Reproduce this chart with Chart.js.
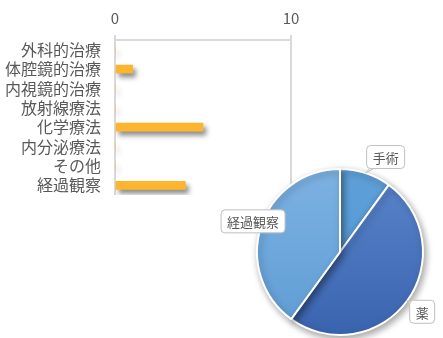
<!DOCTYPE html>
<html>
<head>
<meta charset="utf-8">
<script src="https://cdn.jsdelivr.net/npm/chart.js@4"></script>
<style>
  body { margin: 0; background: #fff; }
  #wrap { position: relative; width: 443px; height: 338px; overflow: hidden; }
  #bar-chart { position: absolute; left: 0; top: 0; }
  #pie-chart { position: absolute; left: 210px; top: 140px; }
</style>
</head>
<body>
<div id="wrap">
  <canvas id="bar-chart" width="443" height="338"></canvas>
  <canvas id="pie-chart" width="233" height="198"></canvas>
</div>
<script>
var categories = ['外科的治療', '体腔鏡的治療', '内視鏡的治療', '放射線療法', '化学療法', '内分泌療法', 'その他', '経過観察'];
var counts = [0, 1, 0, 0, 5, 0, 0, 4];
var axisMax = 10;

var pieLabels = ['手術', '薬', '経過観察'];
var pieValues = [1, 5, 4];

var FONT = "'Noto Sans CJK JP', 'Noto Sans', sans-serif";
var TEXT = '#595959';

// soft drop shadow under the marks of a dataset
var shadowPlugin = {
  id: 'shadow',
  beforeDatasetDraw: function (chart, args, opts) {
    var ctx = chart.ctx;
    ctx.save();
    ctx.shadowColor = opts.color;
    ctx.shadowBlur = opts.blur;
    ctx.shadowOffsetX = opts.x;
    ctx.shadowOffsetY = opts.y;
  },
  afterDatasetDraw: function (chart) {
    chart.ctx.restore();
  }
};

new Chart(document.getElementById('bar-chart'), {
  type: 'bar',
  data: {
    labels: categories,
    datasets: [{
      data: counts,
      backgroundColor: '#FDB52E',
      barThickness: 8
    }]
  },
  options: {
    indexAxis: 'y',
    responsive: false,
    animation: false,
    layout: { padding: { left: 0, right: 152, top: 0, bottom: 143 } },
    plugins: {
      legend: { display: false },
      tooltip: { enabled: false },
      shadow: { color: 'rgba(0,0,0,0.45)', blur: 5, x: 3, y: 4 }
    },
    scales: {
      x: {
        position: 'top',
        min: 0,
        max: axisMax,
        ticks: { stepSize: 10, color: TEXT, font: { family: FONT, size: 15 }, padding: 8 },
        grid: { color: '#d9d9d9', lineWidth: 2, tickLength: 5 },
        border: { display: true, color: '#d9d9d9', width: 2 },
        afterFit: function (scale) { scale.height = 40; }
      },
      y: {
        ticks: { color: TEXT, font: { family: FONT, size: 16 }, padding: 14, autoSkip: false },
        grid: { display: false, drawTicks: false },
        border: { display: false },
        afterFit: function (scale) { scale.width = 115; }
      }
    }
  },
  plugins: [shadowPlugin]
});

// vertical gradient for a pie slice
function sliceFill(ctx) {
  var chart = ctx.chart;
  var area = chart.chartArea;
  if (!area) return '#5B9BD5';
  var stops = [['#5FA0D9', '#4F94D2'], ['#5A86CB', '#3A63AF'], ['#7DB2E2', '#5E9CD4']][ctx.dataIndex];
  var g = chart.ctx.createLinearGradient(0, area.top, 0, area.bottom);
  g.addColorStop(0, stops[0]);
  g.addColorStop(1, stops[1]);
  return g;
}

// boxed data labels with a small pointer toward the slice
var calloutPlugin = {
  id: 'callout',
  afterDatasetsDraw: function (chart, args, opts) {
    var ctx = chart.ctx;
    var meta = chart.getDatasetMeta(0);
    ctx.save();
    ctx.font = opts.size + 'px ' + FONT;
    meta.data.forEach(function (arc, i) {
      var mid = (arc.startAngle + arc.endAngle) / 2;
      var ax = arc.x + Math.cos(mid) * arc.outerRadius;
      var ay = arc.y + Math.sin(mid) * arc.outerRadius;
      var cx = ax + opts.offsets[i][0];
      var cy = ay + opts.offsets[i][1];
      var text = chart.data.labels[i];
      var w = ctx.measureText(text).width + 12;
      var h = 23;
      var x = cx - w / 2, y = cy - h / 2;
      ctx.lineWidth = 1;
      ctx.strokeStyle = '#bfbfbf';
      ctx.fillStyle = '#fff';
      // pointer
      var inside = ax > x && ax < x + w && ay > y && ay < y + h;
      if (!inside) {
        var dx = ax - cx, dy = ay - cy;
        var len = Math.sqrt(dx * dx + dy * dy);
        var nx = -dy / len * 4, ny = dx / len * 4;
        ctx.beginPath();
        ctx.moveTo(cx + nx, cy + ny);
        ctx.lineTo(ax, ay);
        ctx.lineTo(cx - nx, cy - ny);
        ctx.closePath();
        ctx.fill();
        ctx.stroke();
      }
      ctx.beginPath();
      ctx.roundRect(x, y, w, h, 4);
      ctx.fill();
      ctx.stroke();
      ctx.fillStyle = TEXT;
      ctx.textAlign = 'center';
      ctx.textBaseline = 'middle';
      ctx.fillText(text, cx, cy + 1);
    });
    ctx.restore();
  }
};

new Chart(document.getElementById('pie-chart'), {
  type: 'pie',
  data: {
    labels: pieLabels,
    datasets: [{
      data: pieValues,
      backgroundColor: sliceFill,
      borderColor: '#fff',
      borderWidth: 2
    }]
  },
  options: {
    responsive: false,
    animation: false,
    layout: { padding: { left: 46, right: 19, top: 28, bottom: 2 } },
    plugins: {
      legend: { display: false },
      tooltip: { enabled: false },
      shadow: { color: 'rgba(0,0,0,0.35)', blur: 7, x: 2, y: 3 },
      callout: { size: 13, offsets: [[20, -16], [15, 11], [-8, -5]] }
    }
  },
  plugins: [shadowPlugin, calloutPlugin]
});
</script>
</body>
</html>
